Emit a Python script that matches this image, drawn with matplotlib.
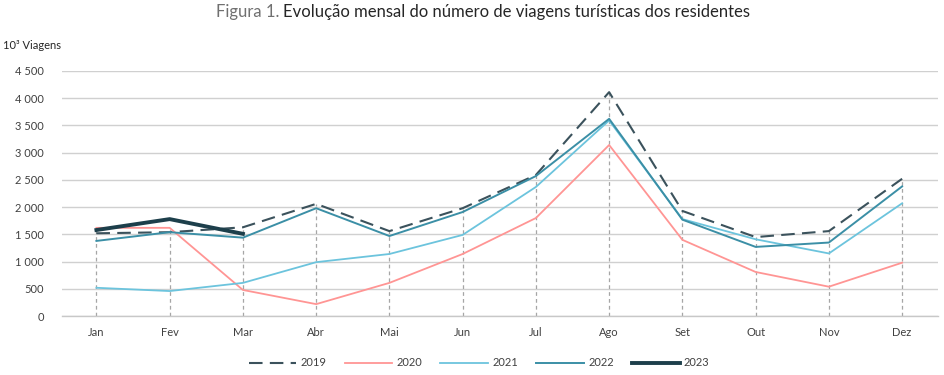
import matplotlib
matplotlib.use("Agg")
import matplotlib.pyplot as plt
import numpy as np

plt.rcParams['font.family'] = ['Lato', 'DejaVu Sans']

months = ["Jan", "Fev", "Mar", "Abr", "Mai", "Jun", "Jul", "Ago", "Set", "Out", "Nov", "Dez"]
v2019 = [1520, 1540, 1630, 2060, 1560, 1980, 2590, 4110, 1930, 1450, 1560, 2520]
v2020 = [1620, 1620, 480, 220, 610, 1140, 1800, 3140, 1400, 810, 540, 980]
v2021 = [520, 460, 610, 990, 1140, 1490, 2370, 3590, 1780, 1410, 1150, 2070]
v2022 = [1380, 1540, 1440, 1980, 1470, 1910, 2570, 3620, 1770, 1270, 1350, 2380]
v2023 = [1580, 1780, 1510]
yticks = [0, 500, 1000, 1500, 2000, 2500, 3000, 3500, 4000, 4500]

fig = plt.figure(figsize=(9.45, 3.75), dpi=100)
ax = fig.add_axes([0.0656, 0.157, 0.927, 0.654])

x = np.arange(len(months))
allv = np.array([v2019, v2020, v2021, v2022])
mx = allv.max(axis=0)
for xi, m in zip(x, mx):
    ax.plot([xi, xi], [0, m], color="#a6a6a6", lw=0.9, ls=(0, (3, 2.5)), zorder=1)

ax.plot(x, v2019, color="#3b525c", lw=1.5, ls=(0, (6.5, 3.5)), label="2019", zorder=3)
ax.plot(x, v2020, color="#ff9594", lw=1.3, label="2020", zorder=3)
ax.plot(x, v2021, color="#6cc4dd", lw=1.3, label="2021", zorder=3)
ax.plot(x, v2022, color="#3b8fa6", lw=1.4, label="2022", zorder=4)
ax.plot(x[:len(v2023)], v2023, color="#1d3f4b", lw=2.8, label="2023", zorder=5)

ax.set_xlim(-0.47, 11.49)
ax.set_ylim(0, 4500)
ax.set_yticks(yticks)
ax.set_yticklabels([f"{v:,}".replace(",", "\u00a0") for v in yticks], fontsize=8, color="#404040")
ax.set_xticks(x)
ax.set_xticklabels(months, fontsize=8, color="#404040")
ax.tick_params(axis='both', length=0, pad=8)
ax.tick_params(axis='y', pad=13)
ax.yaxis.grid(True, color="#d0d0d0", lw=1.0)
ax.set_axisbelow(True)
for s in ["top", "right", "left"]:
    ax.spines[s].set_visible(False)
ax.spines["bottom"].set_color("#c8c8c8")
ax.spines["bottom"].set_linewidth(1.0)

fig.text(0.300, 0.967, "Figura 1. ", ha="right", va="center", fontsize=12, color="#707070")
fig.text(0.300, 0.967, "Evolução mensal do número de viagens turísticas dos residentes",
         ha="left", va="center", fontsize=12, color="#262626")
fig.text(0.003, 0.878, "10³ Viagens", ha="left", va="center", fontsize=8, color="#262626")

leg = fig.legend(loc="center", bbox_to_anchor=(0.507, 0.032), ncol=5, frameon=False,
                 fontsize=8, handlelength=4.3, columnspacing=1.6, handletextpad=0.4)
for t in leg.get_texts():
    t.set_color("#404040")

fig.savefig("out.png", dpi=100)
